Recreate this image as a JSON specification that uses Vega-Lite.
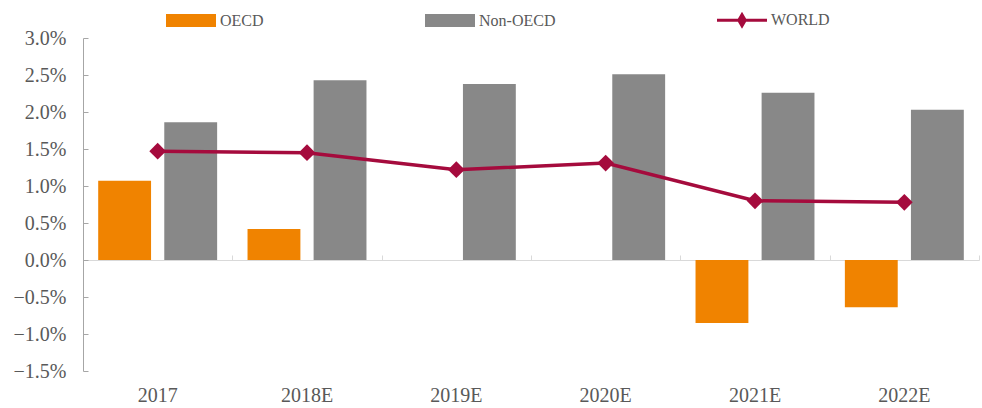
{
  "$schema": "https://vega.github.io/schema/vega-lite/v6.json",
  "width": 896,
  "height": 333,
  "autosize": {"type": "none"},
  "padding": {"left": 83, "top": 38, "right": 3, "bottom": 37},
  "config": {
    "font": "Liberation Serif",
    "view": {"stroke": null},
    "axis": {"labelFont": "Liberation Serif", "labelFontSize": 20, "labelColor": "#595959", "grid": false},
    "axisY": {"labelOverlap": false, "labelBound": false, "labelFlush": false}
  },
  "datasets": {
    "bars": [
      {"year": "2017", "series": "OECD", "value": 0.0107},
      {"year": "2017", "series": "Non-OECD", "value": 0.0186},
      {"year": "2018E", "series": "OECD", "value": 0.0042},
      {"year": "2018E", "series": "Non-OECD", "value": 0.0243},
      {"year": "2019E", "series": "Non-OECD", "value": 0.0238},
      {"year": "2020E", "series": "Non-OECD", "value": 0.0251},
      {"year": "2021E", "series": "OECD", "value": -0.0085},
      {"year": "2021E", "series": "Non-OECD", "value": 0.0226},
      {"year": "2022E", "series": "OECD", "value": -0.0064},
      {"year": "2022E", "series": "Non-OECD", "value": 0.0203}
    ],
    "world": [
      {"year": "2017", "series": "WORLD", "value": 0.0147},
      {"year": "2018E", "series": "WORLD", "value": 0.0145},
      {"year": "2019E", "series": "WORLD", "value": 0.0122},
      {"year": "2020E", "series": "WORLD", "value": 0.0131},
      {"year": "2021E", "series": "WORLD", "value": 0.0080},
      {"year": "2022E", "series": "WORLD", "value": 0.0078}
    ]
  },
  "layer": [
    {
      "data": {"name": "bars"},
      "mark": {"type": "bar"},
      "encoding": {
        "x": {
          "field": "year", "type": "nominal",
          "sort": ["2017", "2018E", "2019E", "2020E", "2021E", "2022E"],
          "scale": {"paddingInner": 0, "paddingOuter": 0},
          "axis": {"orient": "bottom", "title": null, "domain": false, "ticks": false, "labelAngle": 0, "labelPadding": 14}
        },
        "xOffset": {
          "field": "series", "type": "nominal", "sort": ["OECD", "Non-OECD"],
          "scale": {"paddingInner": 0.2, "paddingOuter": 0.23}
        },
        "y": {
          "field": "value", "type": "quantitative",
          "scale": {"domain": [-0.015, 0.03], "nice": false, "zero": false},
          "axis": {
            "title": null,
            "values": [-0.015, -0.01, -0.005, 0, 0.005, 0.01, 0.015, 0.02, 0.025, 0.03],
            "format": ".1%",
            "labelOverlap": false,
            "domainColor": "#A6A6A6",
            "tickColor": "#A6A6A6",
            "tickSize": -5,
            "labelPadding": 22
          }
        },
        "color": {
          "field": "series", "type": "nominal",
          "scale": {"domain": ["OECD", "Non-OECD", "WORLD"], "range": ["#F08300", "#888888", "#A50B3D"]},
          "legend": {
            "title": null,
            "orient": "none",
            "direction": "horizontal",
            "legendX": 83,
            "legendY": -43,
            "labelFont": "Liberation Serif",
            "labelFontSize": 16,
            "labelColor": "#595959",
            "labelOffset": 4,
            "columnPadding": 161,
            "symbolSize": 2500,
            "symbolStrokeWidth": 0,
            "encode": {
              "symbols": {
                "update": {
                  "shape": {"signal": "datum.value === 'WORLD' ? 'M-1,-0.06H1V0.06H-1Z M0,-0.34L0.2,0L0,0.34L-0.2,0Z' : 'M-1,-0.26H1V0.26H-1Z'"},
                  "fill": {"scale": "color", "field": "value"},
                  "stroke": {"value": "transparent"},
                  "size": {"value": 2500},
                  "opacity": {"value": 1}
                }
              }
            }
          }
        }
      }
    },
    {
      "data": {"name": "world"},
      "mark": {"type": "line", "strokeWidth": 3.5, "point": {"shape": "diamond", "size": 280, "filled": true}},
      "encoding": {
        "x": {
          "field": "year", "type": "nominal",
          "sort": ["2017", "2018E", "2019E", "2020E", "2021E", "2022E"],
          "axis": {"orient": "top", "offset": -222, "labels": false, "title": null, "tickBand": "extent", "domainColor": "#D9D9D9", "tickColor": "#D9D9D9", "tickSize": 5}
        },
        "y": {
          "field": "value", "type": "quantitative",
          "axis": {
            "title": null,
            "values": [-0.015, -0.01, -0.005, 0, 0.005, 0.01, 0.015, 0.02, 0.025, 0.03],
            "format": ".1%",
            "labelOverlap": false,
            "domainColor": "#A6A6A6",
            "tickColor": "#A6A6A6",
            "tickSize": -5,
            "labelPadding": 22
          }
        },
        "color": {"field": "series", "type": "nominal"}
      }
    }
  ],
  "resolve": {"axis": {"x": "independent"}}
}
